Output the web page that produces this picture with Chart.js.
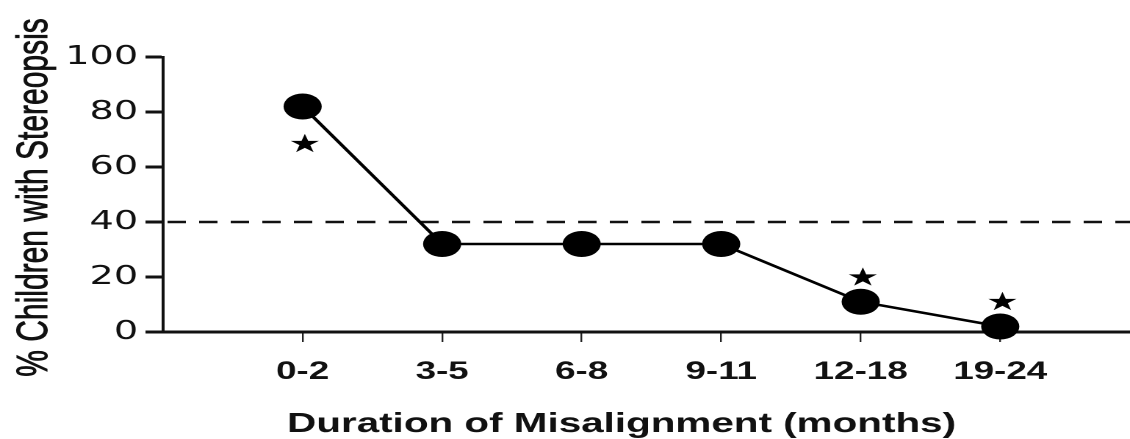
<!DOCTYPE html>
<html>
<head>
<meta charset="utf-8">
<script src="https://cdn.jsdelivr.net/npm/chart.js@4.4.1/dist/chart.umd.min.js"></script>
<style>
  html, body { margin: 0; padding: 0; background: #fff; overflow: hidden; }
  /* the figure is drawn narrow and widened horizontally, like the published plot */
  #frame { width: 769px; height: 439px; transform: scaleX(1.4694); transform-origin: 0 0; }
</style>
</head>
<body>
<div id="frame"><canvas id="c" width="769" height="439"></canvas></div>
<script>
// Duration of misalignment groups (months)
const categories = ['0-2', '3-5', '6-8', '9-11', '12-18', '19-24'];
// Percentage of children with stereopsis in each group
const stereopsisPct = [82, 32, 32, 32, 11, 2];
// Significance asterisks: where each star sits relative to its point
const significance = ['below', '', '', '', 'above', 'above'];
// Y axis tick values
const yTicks = [0, 20, 40, 60, 80, 100];
// Dashed reference level (%)
const referenceLevel = 40;

const yTitle = '% Children with Stereopsis';
const xTitle = 'Duration of Misalignment (months)';

const referenceLine = {
  id: 'referenceLine',
  beforeDatasetsDraw(chart) {
    const { ctx, chartArea, scales } = chart;
    const y = scales.y.getPixelForValue(referenceLevel);
    ctx.save();
    ctx.strokeStyle = '#111';
    ctx.lineWidth = 2.5;
    ctx.setLineDash([12.5, 9]);
    ctx.beginPath();
    ctx.moveTo(chartArea.left + 3, y);
    ctx.lineTo(chartArea.right, y);
    ctx.stroke();
    ctx.restore();
  }
};

const significanceStars = {
  id: 'significanceStars',
  afterDatasetsDraw(chart) {
    const { ctx } = chart;
    const points = chart.getDatasetMeta(0).data;
    ctx.save();
    ctx.fillStyle = '#000';
    ctx.font = '25px "DejaVu Sans"';
    ctx.textAlign = 'center';
    ctx.textBaseline = 'middle';
    significance.forEach((pos, i) => {
      if (!pos) return;
      const p = points[i];
      const dy = pos === 'below' ? 39 : -23;
      ctx.fillText('\u2605', p.x + 1.5, p.y + dy);
    });
    ctx.restore();
  }
};

const axisCaptions = {
  id: 'axisCaptions',
  afterDraw(chart) {
    const { ctx, chartArea } = chart;
    ctx.save();
    ctx.fillStyle = '#111';
    ctx.strokeStyle = '#111';
    // horizontal axis caption
    ctx.font = 'bold 27.5px "Liberation Sans"';
    ctx.textAlign = 'center';
    ctx.textBaseline = 'alphabetic';
    ctx.fillText(xTitle, (chartArea.left + chartArea.right) / 2 - 17, 432);
    // vertical axis caption (slightly heavier stroke)
    ctx.font = '30px "Liberation Sans"';
    ctx.lineWidth = 0.6;
    ctx.translate(32, (chartArea.top + chartArea.bottom) / 2 + 3);
    ctx.rotate(-Math.PI / 2);
    ctx.fillText(yTitle, 0, 0);
    ctx.strokeText(yTitle, 0, 0);
    ctx.restore();
  }
};

new Chart(document.getElementById('c'), {
  type: 'line',
  data: {
    datasets: [{
      data: stereopsisPct.map((v, i) => ({ x: i, y: v })),
      borderColor: '#000',
      borderWidth: 2.5,
      tension: 0,
      pointRadius: 13,
      pointHoverRadius: 13,
      pointBackgroundColor: '#000',
      pointBorderColor: '#000',
      pointBorderWidth: 0,
      clip: false
    }]
  },
  options: {
    responsive: false,
    animation: false,
    devicePixelRatio: 2,
    layout: { autoPadding: false, padding: { top: 57, left: 0, right: 0, bottom: 0 } },
    plugins: { legend: { display: false }, tooltip: { enabled: false } },
    scales: {
      x: {
        type: 'linear',
        min: -1,
        max: 5.93,
        afterBuildTicks: s => { s.ticks = categories.map((_, i) => ({ value: i })); },
        afterFit: s => { s.height = 107; s.paddingRight = 0; s.paddingLeft = 0; },
        ticks: {
          autoSkip: false,
          maxRotation: 0,
          padding: 15,
          color: '#111',
          font: { family: 'Liberation Sans', size: 25, weight: 'bold' },
          callback: v => categories[v]
        },
        grid: { drawOnChartArea: false, drawTicks: true, tickLength: 10, lineWidth: 1.2, color: '#222' },
        border: { display: true, width: 3, color: '#111' }
      },
      y: {
        min: 0,
        max: 100,
        afterBuildTicks: s => { s.ticks = yTicks.map(v => ({ value: v })); },
        afterFit: s => { s.width = 111; },
        ticks: {
          padding: 5,
          color: '#111',
          font: { family: 'DejaVu Sans', size: 26 }
        },
        grid: { drawOnChartArea: false, drawTicks: true, tickLength: 12, lineWidth: 3, color: '#111' },
        border: { display: true, width: 2, color: '#111' }
      }
    }
  },
  plugins: [referenceLine, significanceStars, axisCaptions]
});
</script>
</body>
</html>
